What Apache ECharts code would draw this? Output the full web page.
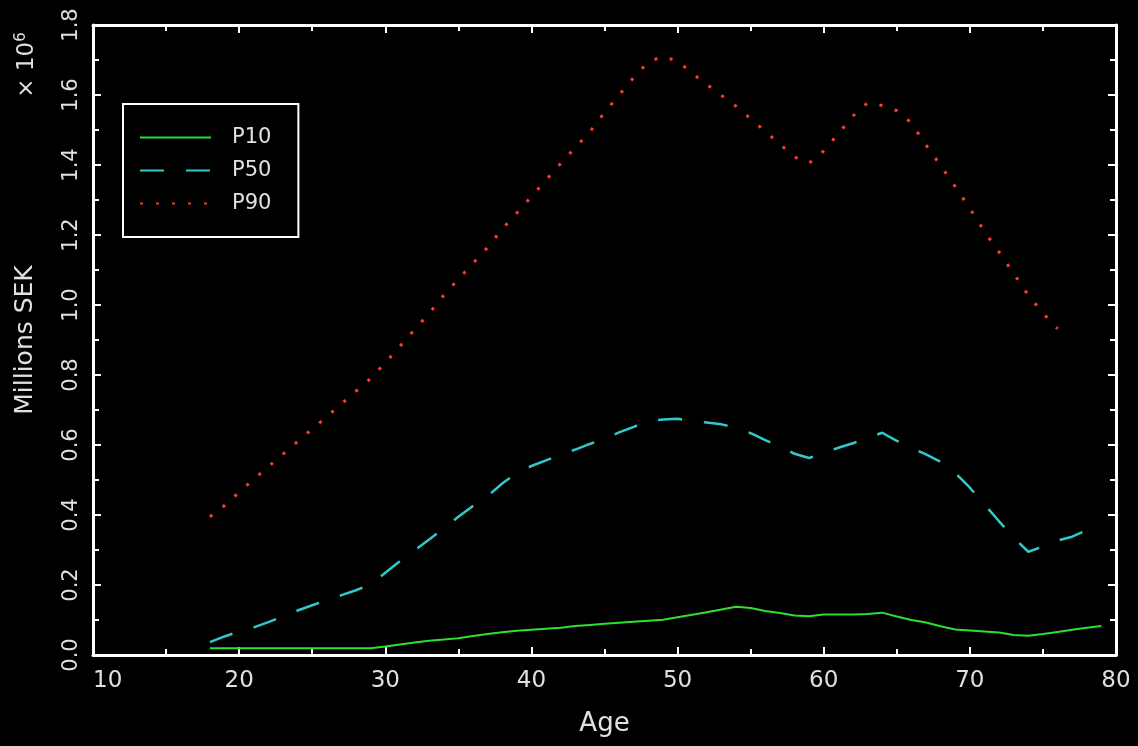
<!DOCTYPE html>
<html>
<head>
<meta charset="utf-8">
<script src="https://cdn.jsdelivr.net/npm/echarts@6.0.0/dist/echarts.min.js"></script>
<style>
  html, body { margin: 0; padding: 0; background: #000; }
  #chart { width: 1138px; height: 746px; }
</style>
</head>
<body>
<div id="chart"></div>
<script>
// ages (years)
const ages = [18, 19, 20, 21, 22, 23, 24, 25, 26, 27, 28, 29, 30, 31, 32, 33, 34, 35, 36, 37,
  38, 39, 40, 41, 42, 43, 44, 45, 46, 47, 48, 49, 50, 51, 52, 53, 54, 55, 56, 57,
  58, 59, 60, 61, 62, 63, 64, 65, 66, 67, 68, 69, 70, 71, 72, 73, 74, 75, 76, 77,
  78, 79];

// wealth percentiles, millions SEK (x 10^6)
const p10 = [0.019, 0.019, 0.019, 0.019, 0.019, 0.019, 0.019, 0.019, 0.019, 0.019, 0.019, 0.019,
  0.024, 0.030, 0.036, 0.041, 0.044, 0.048, 0.054, 0.060, 0.065, 0.069, 0.072, 0.075,
  0.078, 0.083, 0.086, 0.089, 0.092, 0.095, 0.098, 0.101, 0.108, 0.115, 0.122, 0.130,
  0.138, 0.134, 0.126, 0.120, 0.113, 0.111, 0.116, 0.116, 0.116, 0.117, 0.121, 0.110,
  0.100, 0.093, 0.082, 0.073, 0.070, 0.067, 0.064, 0.057, 0.055, 0.060, 0.066, 0.072,
  0.078, 0.083];

const p50 = [0.037, 0.053, 0.067, 0.079, 0.094, 0.110, 0.127, 0.142, 0.157, 0.171, 0.185, 0.202,
  0.235, 0.268, 0.299, 0.330, 0.361, 0.395, 0.426, 0.454, 0.490, 0.520, 0.540, 0.556,
  0.572, 0.587, 0.603, 0.618, 0.636, 0.652, 0.668, 0.673, 0.675, 0.669, 0.664, 0.659,
  0.649, 0.634, 0.614, 0.595, 0.575, 0.563, 0.577, 0.592, 0.605, 0.620, 0.635, 0.612,
  0.592, 0.573, 0.552, 0.520, 0.478, 0.430, 0.382, 0.335, 0.295, 0.310, 0.327, 0.338,
  0.357, 0.375];

// P90 stops at age 76
const p90 = [0.395, 0.427, 0.465, 0.502, 0.538, 0.574, 0.610, 0.646, 0.681, 0.717, 0.754, 0.790,
  0.835, 0.882, 0.930, 0.976, 1.028, 1.074, 1.119, 1.165, 1.217, 1.263, 1.310, 1.357,
  1.404, 1.450, 1.495, 1.550, 1.600, 1.650, 1.695, 1.710, 1.697, 1.662, 1.630, 1.599,
  1.568, 1.532, 1.496, 1.460, 1.423, 1.405, 1.440, 1.490, 1.540, 1.578, 1.570, 1.555,
  1.520, 1.457, 1.398, 1.338, 1.276, 1.210, 1.151, 1.090, 1.028, 0.977, 0.932];

const seriesNames = ['P10', 'P50', 'P90'];

const pairs = vals => vals.map((v, i) => [ages[i], v]);

const FONT = 'DejaVu Sans';
const FG = '#e0e0e0';

const tickStyle = { color: '#fff', width: 2 };
const frameAxis = (extra) => Object.assign({
  axisLine: { show: true, onZero: false, lineStyle: { color: '#fff', width: 3 } },
  axisTick: { show: true, inside: true, length: 8, lineStyle: tickStyle },
  minorTick: { show: true, splitNumber: 2, length: 6, lineStyle: tickStyle },
  splitLine: { show: false },
  minorSplitLine: { show: false }
}, extra);

const chart = echarts.init(document.getElementById('chart'));

chart.setOption({
  backgroundColor: '#000',
  animation: false,
  grid: { left: 93, right: 22, top: 25, bottom: 91 },
  legend: {
    data: seriesNames,
    orient: 'vertical',
    left: 123,
    top: 104,
    itemWidth: 71,
    itemHeight: 14,
    itemGap: 12,
    padding: [23, 27, 23, 16],
    borderColor: '#fff',
    borderWidth: 2,
    // hide the symbol that ECharts puts in the middle of the line icon
    itemStyle: { color: 'rgba(0,0,0,0)', borderWidth: 0, opacity: 0 },
    textStyle: { color: FG, fontFamily: FONT, fontSize: 21, padding: [0, 0, 0, 16] }
  },
  xAxis: [
    frameAxis({
      type: 'value', min: 10, max: 80, interval: 10, position: 'bottom',
      name: 'Age', nameLocation: 'middle', nameGap: 56,
      nameTextStyle: { color: FG, fontFamily: FONT, fontSize: 26 },
      axisLabel: { color: FG, fontFamily: FONT, fontSize: 23, margin: 15, alignMinLabel: 'left' }
    }),
    frameAxis({
      type: 'value', min: 10, max: 80, interval: 10, position: 'top',
      axisLabel: { show: false }
    })
  ],
  yAxis: [
    frameAxis({
      type: 'value', min: 0, max: 1.8, interval: 0.2, position: 'left',
      name: 'Millions SEK', nameLocation: 'middle', nameGap: 55, nameRotate: 90,
      nameTextStyle: { color: FG, fontFamily: FONT, fontSize: 25 },
      axisLabel: {
        color: FG, fontFamily: FONT, fontSize: 21, margin: 11, rotate: 90,
        formatter: v => v.toFixed(1)
      }
    }),
    frameAxis({
      type: 'value', min: 0, max: 1.8, interval: 0.2, position: 'right',
      axisLabel: { show: false }
    })
  ],
  graphic: [{
    type: 'text',
    x: 27,
    y: 65,
    rotation: Math.PI / 2,
    style: {
      text: '× 10{sup|6}',
      fill: FG,
      font: '23px "DejaVu Sans"',
      align: 'center',
      verticalAlign: 'middle',
      rich: { sup: { fontSize: 15, fill: FG, fontFamily: FONT, verticalAlign: 'top', padding: [0, 0, 12, 0] } }
    }
  }],
  series: [
    {
      name: 'P10', type: 'line', symbol: 'none', data: pairs(p10),
      lineStyle: { color: '#2ee02e', width: 2 }, itemStyle: { color: '#2ee02e' }
    },
    {
      name: 'P50', type: 'line', symbol: 'none', data: pairs(p50),
      lineStyle: { color: '#34c8c8', width: 2.5, type: [24, 22] }, itemStyle: { color: '#34c8c8' }
    },
    {
      name: 'P90', type: 'line', symbol: 'none', data: pairs(p90),
      lineStyle: { color: '#ff3b30', width: 3, type: [3, 13] }, itemStyle: { color: '#ff3b30' }
    }
  ]
});
</script>
</body>
</html>
